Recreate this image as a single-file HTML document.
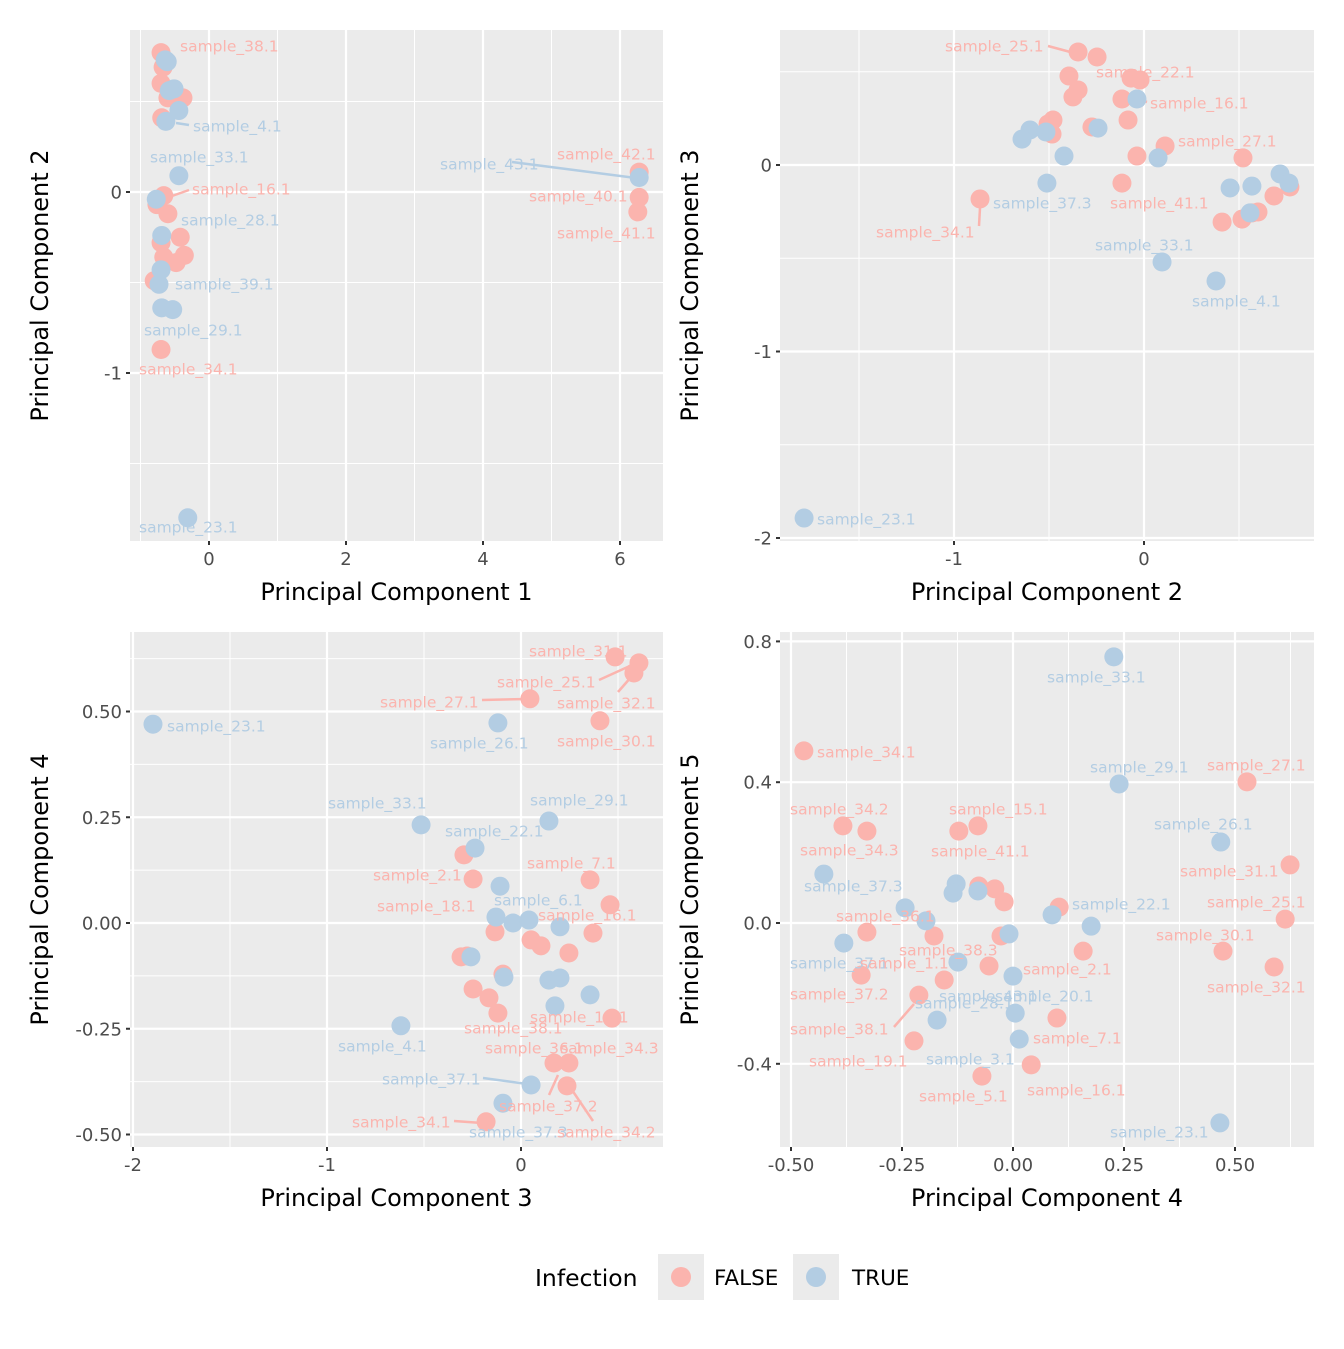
<!DOCTYPE html>
<html><head><meta charset="utf-8"><style>
body{margin:0;background:#fff}
svg text{font-family:"DejaVu Sans","Liberation Sans",sans-serif}
</style></head><body>
<svg id="chart" width="1344" height="1344" xmlns="http://www.w3.org/2000/svg"></svg>
<script>
const p1Pink=[[-0.70,0.77],[-0.67,0.69],[-0.70,0.60],[-0.60,0.52],[-0.38,0.52],[-0.69,0.41],[-0.66,-0.02],[-0.76,-0.07],[-0.60,-0.12],[-0.42,-0.25],[-0.70,-0.28],[-0.36,-0.35],[-0.48,-0.39],[-0.66,-0.36],[-0.80,-0.49],[-0.70,-0.87],[6.28,0.11],[6.28,-0.03],[6.26,-0.11]];
const p1Blue=[[-0.64,0.73],[-0.61,0.72],[-0.51,0.57],[-0.58,0.56],[-0.44,0.45],[-0.63,0.39],[-0.44,0.09],[-0.77,-0.04],[-0.69,-0.24],[-0.70,-0.43],[-0.73,-0.51],[-0.69,-0.64],[-0.53,-0.65],[6.28,0.08],[-0.31,-1.80]];
const p2Pink=[[-0.347,0.606],[-0.247,0.579],[-0.395,0.477],[-0.068,0.466],[-0.021,0.456],[-0.347,0.402],[-0.374,0.365],[-0.116,0.354],[-0.084,0.241],[-0.479,0.241],[-0.505,0.220],[-0.484,0.166],[-0.274,0.204],[0.111,0.102],[-0.037,0.048],[0.521,0.038],[-0.116,-0.097],[-0.863,-0.182],[0.411,-0.306],[0.516,-0.290],[0.568,-0.257],[0.600,-0.252],[0.684,-0.166],[0.768,-0.118]];
const p2Blue=[[-0.037,0.354],[-0.600,0.188],[-0.642,0.139],[-0.516,0.177],[-0.242,0.198],[-0.421,0.048],[0.074,0.038],[-0.511,-0.097],[0.453,-0.123],[0.568,-0.113],[0.716,-0.048],[0.763,-0.097],[0.558,-0.257],[0.095,-0.520],[0.379,-0.622],[-1.789,-1.893]];
const p3Pink=[[0.485,0.629],[0.608,0.615],[0.582,0.591],[0.046,0.530],[0.407,0.478],[-0.294,0.161],[-0.247,0.104],[0.356,0.102],[0.459,0.043],[-0.134,-0.021],[0.052,-0.040],[0.103,-0.054],[0.247,-0.071],[0.371,-0.024],[-0.309,-0.080],[-0.278,-0.078],[-0.093,-0.121],[-0.247,-0.156],[-0.165,-0.177],[-0.119,-0.213],[0.469,-0.225],[0.170,-0.331],[0.247,-0.331],[0.237,-0.385],[-0.180,-0.470]];
const p3Blue=[[-0.119,0.473],[-0.515,0.232],[0.144,0.241],[-0.237,0.177],[-0.108,0.087],[-0.129,0.014],[-0.041,0.000],[0.041,0.007],[0.201,-0.009],[-0.258,-0.080],[-0.088,-0.128],[0.144,-0.135],[0.201,-0.130],[0.356,-0.170],[0.175,-0.196],[-0.619,-0.243],[0.052,-0.383],[-0.093,-0.426],[-1.897,0.470]];
const p4Pink=[[-0.471,0.489],[-0.383,0.276],[-0.329,0.261],[-0.122,0.261],[-0.079,0.276],[-0.077,0.105],[-0.041,0.097],[-0.020,0.060],[0.104,0.045],[-0.329,-0.026],[-0.178,-0.037],[-0.027,-0.037],[0.158,-0.080],[-0.342,-0.148],[-0.155,-0.162],[-0.054,-0.122],[-0.212,-0.205],[0.099,-0.270],[-0.223,-0.335],[0.041,-0.403],[-0.070,-0.435],[0.527,0.401],[0.624,0.165],[0.613,0.011],[0.473,-0.080],[0.588,-0.125]];
const p4Blue=[[0.227,0.756],[0.239,0.395],[0.468,0.230],[-0.426,0.139],[-0.243,0.043],[-0.128,0.111],[-0.135,0.085],[-0.079,0.091],[-0.196,0.006],[0.088,0.023],[0.176,-0.009],[-0.009,-0.031],[-0.381,-0.057],[-0.124,-0.111],[0.000,-0.151],[0.005,-0.256],[-0.171,-0.276],[0.014,-0.330],[0.466,-0.568]];
const p1XTicks=[0,2,4,6], p1YTicks=[0,-1];
const p2XTicks=[-1,0], p2YTicks=[0,-1,-2];
const p3XTicks=[-2,-1,0], p3YTicks=[0.5,0.25,0,-0.25,-0.5];
const p4XTicks=[-0.5,-0.25,0,0.25,0.5], p4YTicks=[0.8,0.4,0,-0.4];
const p3XLabels=["-2","-1","0"], p3YLabels=["0.50","0.25","0.00","-0.25","-0.50"];
const p4XLabels=["-0.50","-0.25","0.00","0.25","0.50"], p4YLabels=["0.8","0.4","0.0","-0.4"];
const p1Labels=[["sample_38.1",0,180,46],["sample_4.1",1,193,126,[176,123,189,125]],["sample_33.1",1,150,157],["sample_16.1",0,192,189,[172,196,189,190]],["sample_28.1",1,181,220,[158,200,176,214]],["sample_39.1",1,175,284],["sample_29.1",1,144,330],["sample_34.1",0,139,369],["sample_43.1",1,440,164,[512,162,636,178]],["sample_42.1",0,557,154],["sample_40.1",0,529,196],["sample_41.1",0,557,233],["sample_23.1",1,139,527]];
const p2Labels=[["sample_25.1",0,945,46,[1048,46,1074,53]],["sample_22.1",0,1096,72],["sample_16.1",0,1150,103,[1140,100,1147,102]],["sample_27.1",0,1178,141],["sample_37.3",1,993,203],["sample_41.1",0,1110,203],["sample_34.1",0,876,232,[979,226,980,208]],["sample_33.1",1,1095,245],["sample_4.1",1,1192,301],["sample_23.1",1,817,519]];
const p3Labels=[["sample_31.1",0,529,651],["sample_25.1",0,497,682,[599,680,632,665]],["sample_27.1",0,380,702,[482,700,527,699]],["sample_32.1",0,557,703,[618,692,632,676]],["sample_26.1",1,430,743],["sample_30.1",0,557,741],["sample_23.1",1,167,726],["sample_33.1",1,328,803],["sample_29.1",1,530,800],["sample_22.1",1,445,831],["sample_7.1",0,527,863],["sample_2.1",0,373,875],["sample_6.1",1,494,900],["sample_18.1",0,377,906],["sample_16.1",0,538,915],["sample_14.1",0,530,1017],["sample_38.1",0,464,1028],["sample_4.1",1,338,1046],["sample_36.1",0,485,1048],["sample_34.3",0,560,1048],["sample_37.1",1,382,1079,[483,1078,527,1084]],["sample_37.2",0,499,1106,[549,1095,558,1075]],["sample_34.1",0,352,1122,[454,1121,482,1123]],["sample_37.3",1,469,1132],["sample_34.2",0,557,1132,[593,1121,572,1090]]];
const p4Labels=[["sample_33.1",1,1047,677],["sample_34.1",0,817,752],["sample_29.1",1,1090,767],["sample_27.1",0,1207,765],["sample_34.2",0,790,809],["sample_15.1",0,949,809],["sample_26.1",1,1154,824],["sample_34.3",0,800,850],["sample_41.1",0,931,851],["sample_31.1",0,1180,871],["sample_37.3",1,804,886],["sample_22.1",1,1072,904],["sample_25.1",0,1207,902],["sample_36.1",0,836,916],["sample_30.1",0,1156,935],["sample_38.3",0,899,950],["sample_37.1",1,790,963],["sample_1.1",0,860,963],["sample_2.1",0,1023,969],["sample_32.1",0,1207,987],["sample_37.2",0,790,994],["sample_43.1",1,939,996],["sample_28.1",1,915,1003],["sample_20.1",1,995,996],["sample_38.1",0,790,1029,[894,1027,914,1004]],["sample_7.1",0,1033,1038],["sample_19.1",0,809,1061],["sample_3.1",1,926,1059],["sample_16.1",0,1027,1090],["sample_5.1",0,919,1096],["sample_23.1",1,1110,1132]];

const NS="http://www.w3.org/2000/svg";
const svg=document.getElementById('chart');
const COL=["#FBB4AE","#B3CDE3"];
function mk(tag,attrs,parent,text){const e=document.createElementNS(NS,tag);for(const k in attrs)e.setAttribute(k,attrs[k]);if(text!==undefined)e.textContent=text;(parent||svg).appendChild(e);return e;}

function panel(cfg){
  const g=mk('g',{});
  
  
  const [L,T,R,B]=cfg.box;
  const sx=v=>cfg.x0+cfg.xs*v, sy=v=>cfg.y0-cfg.ys*v;
  const bg=mk('rect',{x:L,y:T,width:R-L,height:B-T,fill:'#EBEBEB'},g);
  
  
  const xs=cfg.xt, ys=cfg.yt;
  const xstep=xs[1]-xs[0], ystep=ys[1]-ys[0];
  for(let v=xs[0]-xstep*3.5;v<=xs[xs.length-1]+xstep*3;v+=xstep){const px=sx(v);if(px>L&&px<R)mk('line',{x1:px,x2:px,y1:T,y2:B,stroke:'#fff','stroke-width':1},g);}
  for(let v=ys[0]-ystep*3.5;Math.abs(v)<=Math.abs(ys[ys.length-1])+Math.abs(ystep)*4;v+=ystep){const py=sy(v);if(py>T&&py<B)mk('line',{x1:L,x2:R,y1:py,y2:py,stroke:'#fff','stroke-width':1},g);}
  xs.forEach((v,i)=>{const px=sx(v);
    mk('line',{x1:px,x2:px,y1:T,y2:B,stroke:'#fff','stroke-width':2.2},g);
    mk('line',{x1:px,x2:px,y1:B,y2:B+4,stroke:'#333','stroke-width':2},g);
    const t=mk('text',{x:px,y:B+24,'text-anchor':'middle','font-size':18,fill:'#4D4D4D'},g,cfg.xl?cfg.xl[i]:String(v));
    
    });
  ys.forEach((v,i)=>{const py=sy(v);
    mk('line',{x1:L,x2:R,y1:py,y2:py,stroke:'#fff','stroke-width':2.2},g);
    mk('line',{x1:L-4,x2:L,y1:py,y2:py,stroke:'#333','stroke-width':2},g);
    const t=mk('text',{x:L-8,y:py+6.5,'text-anchor':'end','font-size':18,fill:'#4D4D4D'},g,cfg.yl?cfg.yl[i]:String(v));
    
    });
  cfg.labels.forEach(l=>{if(l[4]){const s=l[4];mk('line',{x1:s[0],y1:s[1],x2:s[2],y2:s[3],stroke:COL[l[1]],'stroke-width':2.5},g);}});
  [[cfg.pink,0],[cfg.blue,1]].forEach(([arr,c])=>arr.forEach(d=>{
    const ci=mk('circle',{cx:sx(d[0]),cy:sy(d[1]),r:9.5,fill:COL[c]},g);
    
    
  }));
  cfg.labels.forEach(l=>{
    const t=mk('text',{x:l[2],y:l[3]+5.5,'font-size':15.5,fill:COL[l[1]]},g,l[0]);
    
    
  });
  const xt=mk('text',{x:(L+R)/2,y:B+59,'text-anchor':'middle','font-size':24,fill:'#000'},g,cfg.xtitle);
  
  
  const cx=L-82, cy=(T+B)/2;
  const yt=mk('text',{x:cx,y:cy,'text-anchor':'middle','font-size':24,fill:'#000',transform:`rotate(-90 ${cx} ${cy})`},g,cfg.ytitle);
  
  
}

panel({name:'panel-pc1-pc2',box:[130,30,663,541],x0:209,xs:68.5,y0:192,ys:181,xt:p1XTicks,yt:p1YTicks,pink:p1Pink,blue:p1Blue,labels:p1Labels,xtitle:'Principal Component 1',ytitle:'Principal Component 2'});
panel({name:'panel-pc2-pc3',box:[780,30,1314,541],x0:1144,xs:190,y0:165,ys:186.5,xt:p2XTicks,yt:p2YTicks,pink:p2Pink,blue:p2Blue,labels:p2Labels,xtitle:'Principal Component 2',ytitle:'Principal Component 3'});
panel({name:'panel-pc3-pc4',box:[130,632,663,1147],x0:521,xs:194,y0:923,ys:423,xt:p3XTicks,yt:p3YTicks,xl:p3XLabels,yl:p3YLabels,pink:p3Pink,blue:p3Blue,labels:p3Labels,xtitle:'Principal Component 3',ytitle:'Principal Component 4'});
panel({name:'panel-pc4-pc5',box:[780,632,1314,1147],x0:1013,xs:444,y0:923,ys:352,xt:p4XTicks,yt:p4YTicks,xl:p4XLabels,yl:p4YLabels,pink:p4Pink,blue:p4Blue,labels:p4Labels,xtitle:'Principal Component 4',ytitle:'Principal Component 5'});

const lg=mk('g',{});


const lt=mk('text',{x:535,y:1286,'font-size':23.5,fill:'#000'},lg,'Infection');


[["FALSE",0,658,714],["TRUE",1,793,852]].forEach(([name,c,kx,tx])=>{
  const e=mk('g',{},lg);
  
  
  mk('rect',{x:kx,y:1254,width:46,height:46,fill:'#EBEBEB'},e);
  mk('circle',{cx:kx+23,cy:1277,r:10,fill:COL[c]},e);
  mk('text',{x:tx,y:1285,'font-size':21.5,fill:'#000'},e,name);
});
</script>
</body></html>
